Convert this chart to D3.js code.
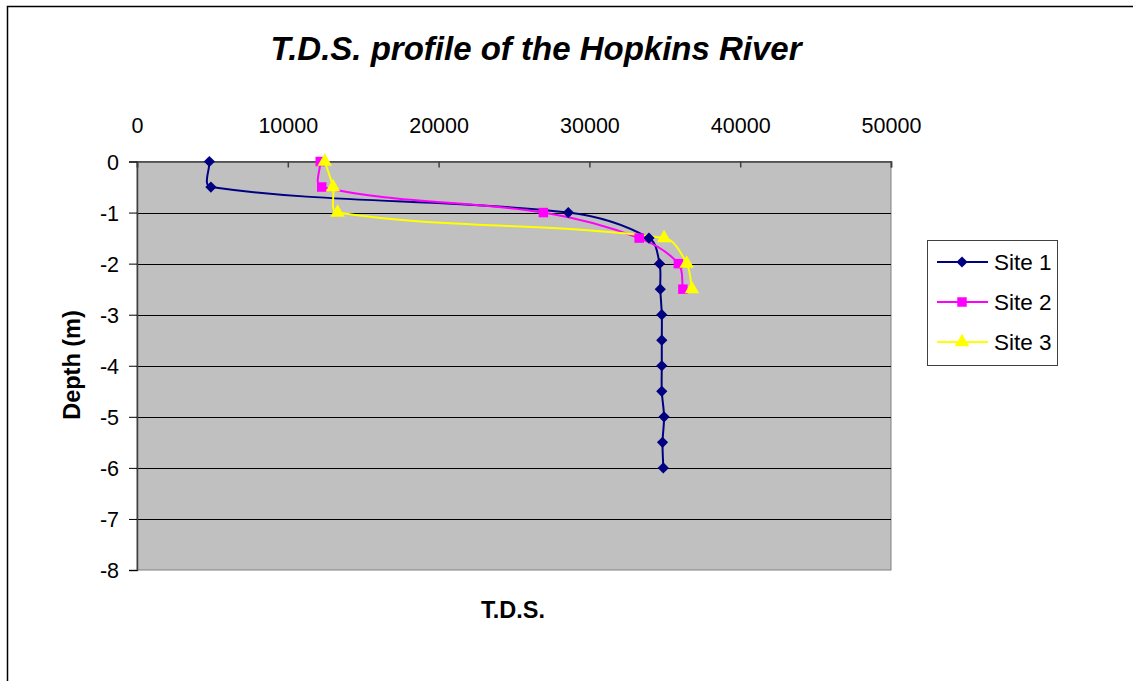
<!DOCTYPE html>
<html>
<head>
<meta charset="utf-8">
<script src="https://cdn.jsdelivr.net/npm/d3@7"></script>
<style>
  body { margin: 0; background: #fff; }
  svg { display: block; font-family: "Liberation Sans", Arial, sans-serif; }
</style>
</head>
<body>
<div id="chart"></div>
<script>
// depths (m) and T.D.S. readings per site
const depths1 = [0, -0.5, -1, -1.5, -2, -2.5, -3, -3.5, -4, -4.5, -5, -5.5, -6];
const site1 = [4800, 4900, 28600, 33950, 34650, 34700, 34800, 34800, 34800, 34800, 34950, 34850, 34900];

const depths2 = [0, -0.5, -1, -1.5, -2, -2.5];
const site2 = [12150, 12250, 26950, 33300, 35900, 36200];

const depths3 = [0, -0.5, -1, -1.5, -2, -2.5];
const site3 = [12450, 13000, 13300, 34950, 36450, 36800];

const xTicks = [0, 10000, 20000, 30000, 40000, 50000];
const yTicks = [0, -1, -2, -3, -4, -5, -6, -7, -8];

const series = [
  { name: "Site 1", xs: site1, ys: depths1, color: "#000080", marker: "diamond" },
  { name: "Site 2", xs: site2, ys: depths2, color: "#FF00FF", marker: "square" },
  { name: "Site 3", xs: site3, ys: depths3, color: "#FFFF00", marker: "triangle" }
];

const W = 1133, H = 681;
const plot = { left: 137, top: 161.5, right: 891, bottom: 570 };
const FONT = "Liberation Sans, Arial, sans-serif";

const svg = d3.select("#chart").append("svg")
  .attr("width", W)
  .attr("height", H);

// chart frame
svg.append("path")
  .attr("d", `M7.5,${H} V6.5 H${W}`)
  .attr("fill", "none")
  .attr("stroke", "#000")
  .attr("stroke-width", 1.5);

const x = d3.scaleLinear().domain([0, 50000]).range([plot.left, plot.right]);
const y = d3.scaleLinear().domain([0, -8]).range([plot.top, plot.bottom]);

// plot area
svg.append("rect")
  .attr("x", plot.left)
  .attr("y", plot.top)
  .attr("width", plot.right - plot.left)
  .attr("height", plot.bottom - plot.top)
  .attr("fill", "#C0C0C0")
  .attr("stroke", "#808080")
  .attr("stroke-width", 1);

// gridlines
svg.append("g")
  .selectAll("line")
  .data(yTicks.filter(d => d !== 0 && d !== -8))
  .join("line")
  .attr("x1", plot.left)
  .attr("x2", plot.right)
  .attr("y1", d => Math.round(y(d)) + 0.5)
  .attr("y2", d => Math.round(y(d)) + 0.5)
  .attr("stroke", "#000")
  .attr("stroke-width", 1);

// x axis on top, ticks inside
const xAxis = svg.append("g")
  .attr("transform", `translate(0,${plot.top})`)
  .call(d3.axisTop(x).tickValues(xTicks).tickSize(-6).tickPadding(0).tickFormat(d => String(d)));
xAxis.select(".domain").attr("stroke", "#404040").attr("stroke-width", 1.5);
xAxis.selectAll(".tick line").attr("stroke", "#404040").attr("stroke-width", 1.5);
xAxis.selectAll(".tick text")
  .attr("y", -29)
  .attr("font-size", 21.5)
  .attr("fill", "#000")
  .attr("font-family", FONT);

// y axis
const yAxis = svg.append("g")
  .attr("transform", `translate(${plot.left},0)`)
  .call(d3.axisLeft(y).tickValues(yTicks).tickSize(8).tickPadding(10).tickFormat(d => String(d)));
yAxis.select(".domain").attr("stroke", "#404040").attr("stroke-width", 1.5);
yAxis.selectAll(".tick line").attr("stroke", "#000");
yAxis.selectAll(".tick text")
  .attr("font-size", 21.5)
  .attr("fill", "#000")
  .attr("dy", "0.35em")
  .attr("font-family", FONT);

// smoothed line like the spreadsheet: bezier handles follow the neighbour
// direction but are scaled by the length of each segment
function smoothPath(pts) {
  const p = d3.path();
  const n = pts.length;
  const tan = pts.map((_, i) => {
    const a = pts[Math.max(i - 1, 0)], b = pts[Math.min(i + 1, n - 1)];
    const dx = b[0] - a[0], dy = b[1] - a[1];
    const len = Math.hypot(dx, dy) || 1;
    return [dx / len, dy / len];
  });
  p.moveTo(pts[0][0], pts[0][1]);
  for (let i = 0; i < n - 1; i++) {
    const a = pts[i], b = pts[i + 1];
    const k = Math.hypot(b[0] - a[0], b[1] - a[1]) / 3;
    p.bezierCurveTo(
      a[0] + tan[i][0] * k, a[1] + tan[i][1] * k,
      b[0] - tan[i + 1][0] * k, b[1] - tan[i + 1][1] * k,
      b[0], b[1]);
  }
  return p.toString();
}

const symbols = {
  diamond: d3.symbol().type(d3.symbolDiamond2).size(80),
  square: d3.symbol().type(d3.symbolSquare).size(90),
  triangle: d3.symbol().type(d3.symbolTriangle).size(90)
};

series.forEach(s => {
  const pts = s.xs.map((v, i) => [x(v), y(s.ys[i])]);
  svg.append("path")
    .attr("fill", "none")
    .attr("stroke", s.color)
    .attr("stroke-width", 2)
    .attr("d", smoothPath(pts));
});

series.forEach(s => {
  const pts = s.xs.map((v, i) => [v, s.ys[i]]);
  svg.append("g")
    .selectAll("path")
    .data(pts)
    .join("path")
    .attr("transform", d => `translate(${x(d[0])},${y(d[1])})`)
    .attr("d", symbols[s.marker])
    .attr("fill", s.color);
});

// title
svg.append("text")
  .attr("x", 536)
  .attr("y", 60)
  .attr("text-anchor", "middle")
  .attr("font-size", 33)
  .attr("font-weight", "bold")
  .attr("font-style", "italic")
  .text("T.D.S. profile of the Hopkins River");

// axis titles
svg.append("text")
  .attr("x", 513)
  .attr("y", 618)
  .attr("text-anchor", "middle")
  .attr("font-size", 23.5)
  .attr("font-weight", "bold")
  .text("T.D.S.");

svg.append("text")
  .attr("transform", "translate(80,365) rotate(-90)")
  .attr("text-anchor", "middle")
  .attr("font-size", 23.5)
  .attr("font-weight", "bold")
  .text("Depth (m)");

// legend
const legend = svg.append("g");
legend.append("rect")
  .attr("x", 927.5)
  .attr("y", 240.5)
  .attr("width", 130)
  .attr("height", 125)
  .attr("fill", "#fff")
  .attr("stroke", "#404040")
  .attr("stroke-width", 1);

series.forEach((s, i) => {
  const ly = 262 + i * 40;
  legend.append("line")
    .attr("x1", 937)
    .attr("x2", 988)
    .attr("y1", ly)
    .attr("y2", ly)
    .attr("stroke", s.color)
    .attr("stroke-width", 2);
  legend.append("path")
    .attr("transform", `translate(962,${ly})`)
    .attr("d", symbols[s.marker])
    .attr("fill", s.color);
  legend.append("text")
    .attr("x", 994)
    .attr("y", ly)
    .attr("dy", "0.35em")
    .attr("font-size", 22.5)
    .text(s.name);
});
</script>
</body>
</html>
